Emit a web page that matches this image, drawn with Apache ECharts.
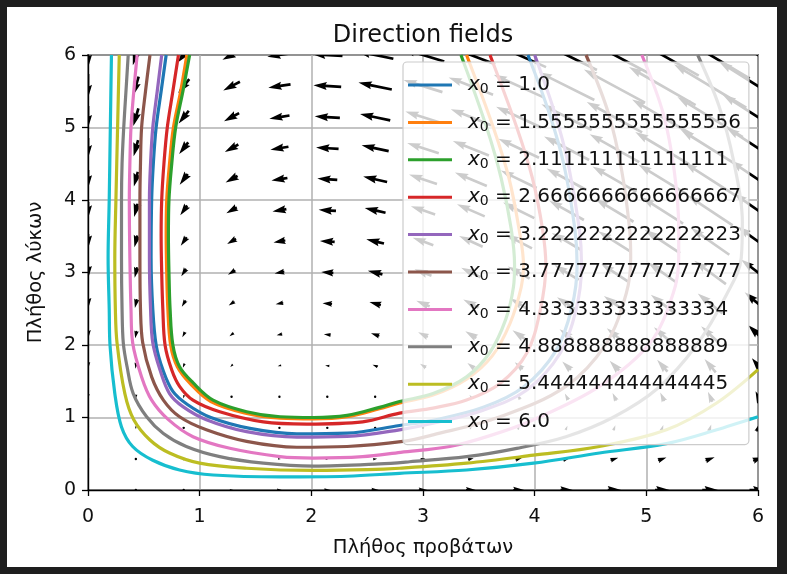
<!DOCTYPE html>
<html><head><meta charset="utf-8">
<script src="https://cdn.jsdelivr.net/npm/echarts@6/dist/echarts.min.js"></script>
<style>html,body{margin:0;padding:0;background:#fff}#c{width:787px;height:574px}</style>
</head><body><div id="c"></div>
<script>
// ---- data ----
const X_TICKS = [0, 1, 2, 3, 4, 5, 6];
const Y_TICKS = [0, 1, 2, 3, 4, 5, 6];
const X0_LABELS = ['1.0','1.5555555555555556','2.111111111111111','2.6666666666666667','3.2222222222222223','3.7777777777777777','4.333333333333334','4.888888888888889','5.444444444444445','6.0'];
const COLORS = ['#1f77b4','#ff7f0e','#2ca02c','#d62728','#9467bd','#8c564b','#e377c2','#7f7f7f','#bcbd22','#17becf'];

const C_1_0 = [[0.70,6],[0.655,5.5],[0.61,5],[0.585,4.5],[0.57,4],[0.565,3.2],[0.58,2.5],[0.61,2.0],[0.67,1.66],[0.76,1.36],[0.89,1.18],[1.1,1.0],[1.45,0.85],[1.87,0.775],[2.32,0.785],[2.79,0.89],[3.09,0.96],[3.54,1.14],[3.9,1.42],[4.19,1.92],[4.33,2.5],[4.38,3.1],[4.36,3.6],[4.26,4.5],[4.13,5.2],[3.94,6]];
const C_1_56 = [[0.885,6],[0.83,5.5],[0.765,5],[0.73,4.5],[0.705,4],[0.70,3.5],[0.705,3.0],[0.715,2.5],[0.74,2.0],[0.80,1.7],[0.92,1.46],[1.1,1.22],[1.41,1.06],[1.72,0.99],[2.02,0.98],[2.32,1.01],[2.61,1.12],[2.79,1.2],[3.09,1.31],[3.39,1.53],[3.62,1.85],[3.78,2.3],[3.88,2.8],[3.9,3.1],[3.86,3.6],[3.77,4.3],[3.63,5.0],[3.39,6]];
const C_2_11 = [[0.91,6],[0.85,5.5],[0.785,5],[0.75,4.5],[0.725,4],[0.72,3.5],[0.725,3.0],[0.735,2.5],[0.76,2.0],[0.82,1.7],[0.94,1.48],[1.12,1.24],[1.42,1.08],[1.72,1.01],[2.02,1.0],[2.32,1.03],[2.61,1.14],[2.79,1.22],[3.09,1.33],[3.39,1.56],[3.6,1.9],[3.74,2.35],[3.81,2.8],[3.82,3.1],[3.79,3.6],[3.7,4.3],[3.57,5.0],[3.34,6]];
const C_2_67 = [[0.81,6],[0.76,5.5],[0.71,5],[0.68,4.5],[0.66,4],[0.655,3.5],[0.66,3.0],[0.67,2.5],[0.69,2.0],[0.75,1.655],[0.82,1.43],[0.94,1.24],[1.18,1.08],[1.57,0.94],[1.96,0.91],[2.46,0.94],[2.79,1.06],[3.09,1.13],[3.39,1.24],[3.69,1.47],[3.93,1.89],[4.05,2.48],[4.1,3.1],[4.07,3.6],[3.98,4.3],[3.84,5.0],[3.6,6]];
const C_3_22 = [[0.66,6],[0.62,5.5],[0.58,5],[0.56,4.5],[0.55,4],[0.55,3.2],[0.56,2.5],[0.58,2.03],[0.645,1.655],[0.73,1.33],[0.85,1.15],[1.06,0.97],[1.42,0.805],[1.87,0.73],[2.32,0.74],[2.79,0.83],[3.09,0.92],[3.54,1.10],[3.93,1.38],[4.23,1.89],[4.37,2.48],[4.42,3.1],[4.4,3.6],[4.3,4.5],[4.18,5.2],[4.0,6]];
const C_3_78 = [[0.555,6],[0.515,5.5],[0.48,5],[0.47,4.5],[0.465,4],[0.465,3.2],[0.47,2.5],[0.49,2.03],[0.57,1.56],[0.675,1.24],[0.82,1.01],[1.06,0.83],[1.42,0.67],[1.87,0.59],[2.32,0.60],[2.82,0.67],[3.09,0.76],[3.69,1.01],[4.28,1.43],[4.64,2.02],[4.82,2.71],[4.86,3.2],[4.85,3.6],[4.78,4.4],[4.66,5.2],[4.46,6]];
const C_4_33 = [[0.44,6],[0.41,5.5],[0.385,5],[0.375,4.5],[0.37,4],[0.375,3.2],[0.385,2.5],[0.40,2.03],[0.48,1.56],[0.57,1.24],[0.72,0.97],[0.94,0.735],[1.27,0.575],[1.72,0.46],[2.02,0.44],[2.46,0.46],[2.8,0.52],[3.24,0.6],[3.6,0.75],[3.99,0.97],[4.58,1.43],[5.03,2.02],[5.24,2.71],[5.29,3.2],[5.29,3.6],[5.25,4.4],[5.15,5.2],[4.96,6]];
const C_4_89 = [[0.36,6],[0.34,5.5],[0.32,5],[0.305,4.5],[0.30,4],[0.30,3.2],[0.305,2.5],[0.316,2.03],[0.35,1.7],[0.405,1.33],[0.525,1.01],[0.675,0.78],[0.88,0.6],[1.18,0.46],[1.57,0.37],[2.02,0.33],[2.61,0.36],[2.88,0.39],[3.39,0.46],[3.84,0.575],[4.28,0.735],[4.7,1.0],[5.1,1.4],[5.45,2.0],[5.72,2.7],[5.85,3.2],[5.86,3.7],[5.78,4.55],[5.65,5.3],[5.46,6]];
const C_5_44 = [[0.28,6],[0.265,5],[0.25,4],[0.24,3.2],[0.245,2.5],[0.26,2.03],[0.33,1.33],[0.41,0.97],[0.555,0.69],[0.73,0.51],[1.0,0.37],[1.42,0.30],[2.02,0.27],[2.5,0.28],[2.79,0.30],[3.39,0.37],[3.99,0.48],[4.58,0.60],[5.18,0.83],[5.63,1.2],[6.0,1.66]];
const C_6_0 = [[0.21,6],[0.2,5],[0.19,4],[0.18,3.2],[0.19,2.5],[0.197,2.0],[0.24,1.33],[0.30,0.87],[0.40,0.6],[0.58,0.41],[0.82,0.276],[1.12,0.207],[1.72,0.18],[2.32,0.19],[2.79,0.23],[3.39,0.276],[3.99,0.37],[4.58,0.51],[5.18,0.64],[5.63,0.83],[6.0,1.01]];
const CURVES = [C_1_0, C_1_56, C_2_11, C_2_67, C_3_22, C_3_78, C_4_33, C_4_89, C_5_44, C_6_0];

// direction-field grid (15 x 15) and arrow components
const QX = [0,0.4286,0.8571,1.2857,1.7143,2.1429,2.5714,3.0,3.4286,3.8571,4.2857,4.7143,5.1429,5.5714,6.0];
const QY = [0,0.4286,0.8571,1.2857,1.7143,2.1429,2.5714,3.0,3.4286,3.8571,4.2857,4.7143,5.1429,5.5714,6.0];
const U = [
[0,0.56,1.11,1.67,2.23,2.79,3.34,3.9,4.46,5.01,5.57,6.13,6.69,7.24,7.8],
[0,0.32,0.64,0.96,1.27,1.59,1.91,2.23,2.55,2.87,3.18,3.50,3.82,4.14,4.46],
[0,0.08,0.16,0.24,0.32,0.40,0.48,0.56,0.64,0.72,0.80,0.88,0.96,1.03,1.11],
[0,-0.16,-0.32,-0.48,-0.64,-0.80,-0.96,-1.11,-1.27,-1.43,-1.59,-1.75,-1.91,-2.07,-2.23],
[0,-0.40,-0.80,-1.19,-1.59,-1.99,-2.39,-2.79,-3.18,-3.58,-3.98,-4.38,-4.78,-5.17,-5.57],
[0,-0.64,-1.27,-1.91,-2.55,-3.18,-3.82,-4.46,-5.09,-5.73,-6.37,-7.00,-7.64,-8.28,-8.91],
[0,-0.88,-1.75,-2.63,-3.50,-4.38,-5.25,-6.13,-7.00,-7.88,-8.76,-9.63,-10.51,-11.38,-12.26],
[0,-1.11,-2.23,-3.34,-4.46,-5.57,-6.69,-7.8,-8.91,-10.03,-11.14,-12.26,-13.37,-14.49,-15.6],
[0,-1.35,-2.71,-4.06,-5.41,-6.77,-8.12,-9.47,-10.82,-12.18,-13.53,-14.88,-16.24,-17.59,-18.94],
[0,-1.59,-3.18,-4.78,-6.37,-7.96,-9.55,-11.14,-12.73,-14.33,-15.92,-17.51,-19.10,-20.69,-22.29],
[0,-1.83,-3.66,-5.49,-7.32,-9.15,-10.98,-12.81,-14.64,-16.48,-18.31,-20.14,-21.97,-23.80,-25.63],
[0,-2.07,-4.14,-6.21,-8.28,-10.35,-12.42,-14.49,-16.55,-18.62,-20.69,-22.76,-24.83,-26.90,-28.97],
[0,-2.31,-4.62,-6.92,-9.23,-11.54,-13.85,-16.16,-18.47,-20.77,-23.08,-25.39,-27.70,-30.01,-32.31],
[0,-2.55,-5.09,-7.64,-10.19,-12.73,-15.28,-17.83,-20.38,-22.92,-25.47,-28.02,-30.56,-33.11,-35.66],
[0,-2.79,-5.57,-8.36,-11.14,-13.93,-16.71,-19.5,-22.29,-25.07,-27.86,-30.64,-33.43,-36.21,-39.0]
];
const V = [
[0,0,0,0,0,0,0,0,0,0,0,0,0,0,0],
[-0.86,-0.67,-0.49,-0.31,-0.12,0.06,0.24,0.43,0.61,0.80,0.98,1.16,1.35,1.53,1.71],
[-1.71,-1.35,-0.98,-0.61,-0.24,0.12,0.49,0.86,1.22,1.59,1.96,2.33,2.69,3.06,3.43],
[-2.57,-2.02,-1.47,-0.92,-0.37,0.18,0.73,1.29,1.84,2.39,2.94,3.49,4.04,4.59,5.14],
[-3.43,-2.69,-1.96,-1.22,-0.49,0.24,0.98,1.71,2.45,3.18,3.92,4.65,5.39,6.12,6.86],
[-4.29,-3.37,-2.45,-1.53,-0.61,0.31,1.22,2.14,3.06,3.98,4.90,5.82,6.73,7.65,8.57],
[-5.14,-4.04,-2.94,-1.84,-0.73,0.37,1.47,2.57,3.67,4.78,5.88,6.98,8.08,9.18,10.29],
[-6,-4.71,-3.43,-2.14,-0.86,0.43,1.71,3,4.29,5.57,6.86,8.14,9.43,10.71,12],
[-6.86,-5.39,-3.92,-2.45,-0.98,0.49,1.96,3.43,4.90,6.37,7.84,9.31,10.78,12.24,13.71],
[-7.71,-6.06,-4.41,-2.76,-1.10,0.55,2.20,3.86,5.51,7.16,8.82,10.47,12.12,13.78,15.43],
[-8.57,-6.73,-4.90,-3.06,-1.22,0.61,2.45,4.29,6.12,7.96,9.80,11.63,13.47,15.31,17.14],
[-9.43,-7.41,-5.39,-3.37,-1.35,0.67,2.69,4.71,6.73,8.76,10.78,12.80,14.82,16.84,18.86],
[-10.29,-8.08,-5.88,-3.67,-1.47,0.73,2.94,5.14,7.35,9.55,11.76,13.96,16.16,18.37,20.57],
[-11.14,-8.76,-6.37,-3.98,-1.59,0.80,3.18,5.57,7.96,10.35,12.73,15.12,17.51,19.90,22.29],
[-12,-9.43,-6.86,-4.29,-1.71,0.86,3.43,6,8.57,11.14,13.71,16.29,18.86,21.43,24]
];

// ---- build ----
const quiverData = [];
for (let j = 0; j < QY.length; j++)
  for (let i = 0; i < QX.length; i++)
    quiverData.push([QX[i], QY[j], U[j][i], V[j][i]]);

const FONT = 'DejaVu Sans';
const ARROW_SCALE = 2.18; // px per unit
const AW = 2.68, AHL = 13.4, AHW = 8.04, AHAL = 12.06;

function renderArrow(params, api) {
  const x = api.value(0), y = api.value(1), u = api.value(2), v = api.value(3);
  const c = api.coord([x, y]);
  const L = Math.sqrt(u * u + v * v) * ARROW_SCALE;
  if (L < AW) {
    return { type: 'circle', shape: { cx: c[0], cy: c[1], r: 1.2 }, style: { fill: '#000' } };
  }
  let f = 1, len = L;
  if (L < AHL) { f = L / AHL; len = AHL; }
  const h = len / 2;
  const pts = [[-h, -AW / 2], [h - AHAL, -AW / 2], [h - AHL, -AHW / 2], [h, 0], [h - AHL, AHW / 2], [h - AHAL, AW / 2], [-h, AW / 2]];
  const ang = Math.atan2(-v, u), ca = Math.cos(ang), sa = Math.sin(ang);
  const out = pts.map(p => {
    const px = p[0] * f, py = p[1] * f;
    return [c[0] + px * ca - py * sa, c[1] + px * sa + py * ca];
  });
  return { type: 'polygon', shape: { points: out }, style: { fill: '#000' } };
}

const series = [{
  type: 'custom', name: 'field', renderItem: renderArrow, data: quiverData, clip: true,
  z: 1, silent: true, animation: false
}];
CURVES.forEach((pts, k) => {
  series.push({
    type: 'line', name: X0_LABELS[k], data: pts, showSymbol: false, symbol: 'none',
    smooth: 0.35, clip: true, z: 3,
    lineStyle: { color: COLORS[k], width: 3.2 }, itemStyle: { color: COLORS[k] }, animation: false
  });
});

const chart = echarts.init(document.getElementById('c'), null, { renderer: 'canvas' });
chart.setOption({
  animation: false,
  backgroundColor: '#fff',
  title: {
    text: 'Direction fields', left: 418, top: 19, textAlign: 'center',
    textStyle: { fontFamily: FONT, fontSize: 24, fontWeight: 'normal', color: '#111' }
  },
  grid: { left: 88, right: 29, top: 55, bottom: 84, show: true, borderColor: '#000', borderWidth: 1.4, backgroundColor: 'transparent' },
  xAxis: {
    type: 'value', min: X_TICKS[0], max: X_TICKS[X_TICKS.length - 1], interval: 1,
    name: 'Πλήθος προβάτων', nameLocation: 'middle', nameGap: 48,
    nameTextStyle: { fontFamily: FONT, fontSize: 19.5, color: '#111' },
    axisLine: { show: true, lineStyle: { color: '#000', width: 1.4 } },
    axisTick: { show: true, length: 6, lineStyle: { color: '#000', width: 1.3 } },
    axisLabel: { fontFamily: FONT, fontSize: 19, color: '#111', margin: 18 },
    splitLine: { show: true, lineStyle: { color: '#b0b0b0', width: 1.5 } }
  },
  yAxis: {
    type: 'value', min: Y_TICKS[0], max: Y_TICKS[Y_TICKS.length - 1], interval: 1,
    name: 'Πλήθος λύκων', nameLocation: 'middle', nameGap: 42,
    nameTextStyle: { fontFamily: FONT, fontSize: 19.5, color: '#111' },
    axisLine: { show: true, lineStyle: { color: '#000', width: 1.4 } },
    axisTick: { show: true, length: 6, lineStyle: { color: '#000', width: 1.3 } },
    axisLabel: { fontFamily: FONT, fontSize: 19, color: '#111', margin: 12 },
    splitLine: { show: true, lineStyle: { color: '#b0b0b0', width: 1.5 } }
  },
  legend: {
    orient: 'vertical', left: 403, top: 62,
    data: X0_LABELS,
    icon: 'rect', itemWidth: 44, itemHeight: 3, itemGap: 13.4,
    padding: [11, 8, 11, 5],
    backgroundColor: 'rgba(255,255,255,0.8)', borderColor: '#cccccc', borderWidth: 1.2, borderRadius: 4,
    selectedMode: false, z: 10,
    formatter: function (name) { return '{i|x}{s|0}{t| = ' + name + '}'; },
    textStyle: {
      fontFamily: FONT, fontSize: 20, color: '#111', lineHeight: 24,
      rich: {
        i: { fontFamily: FONT, fontStyle: 'italic', fontSize: 20, color: '#111', padding: [0, 0, 0, 11], lineHeight: 24 },
        s: { fontFamily: FONT, fontSize: 14, color: '#111', padding: [9, 0, 0, 0], lineHeight: 24 },
        t: { fontFamily: FONT, fontSize: 20, color: '#111', lineHeight: 24 }
      }
    }
  },
  graphic: [
    { type: 'rect', shape: { x: 0, y: 0, width: 787, height: 7 }, style: { fill: '#1e1e1e' }, z: 100 },
    { type: 'rect', shape: { x: 0, y: 567, width: 787, height: 7 }, style: { fill: '#1e1e1e' }, z: 100 },
    { type: 'rect', shape: { x: 0, y: 0, width: 7, height: 574 }, style: { fill: '#1e1e1e' }, z: 100 },
    { type: 'rect', shape: { x: 777, y: 0, width: 10, height: 574 }, style: { fill: '#1e1e1e' }, z: 100 }
  ],
  series: series
});
</script></body></html>
